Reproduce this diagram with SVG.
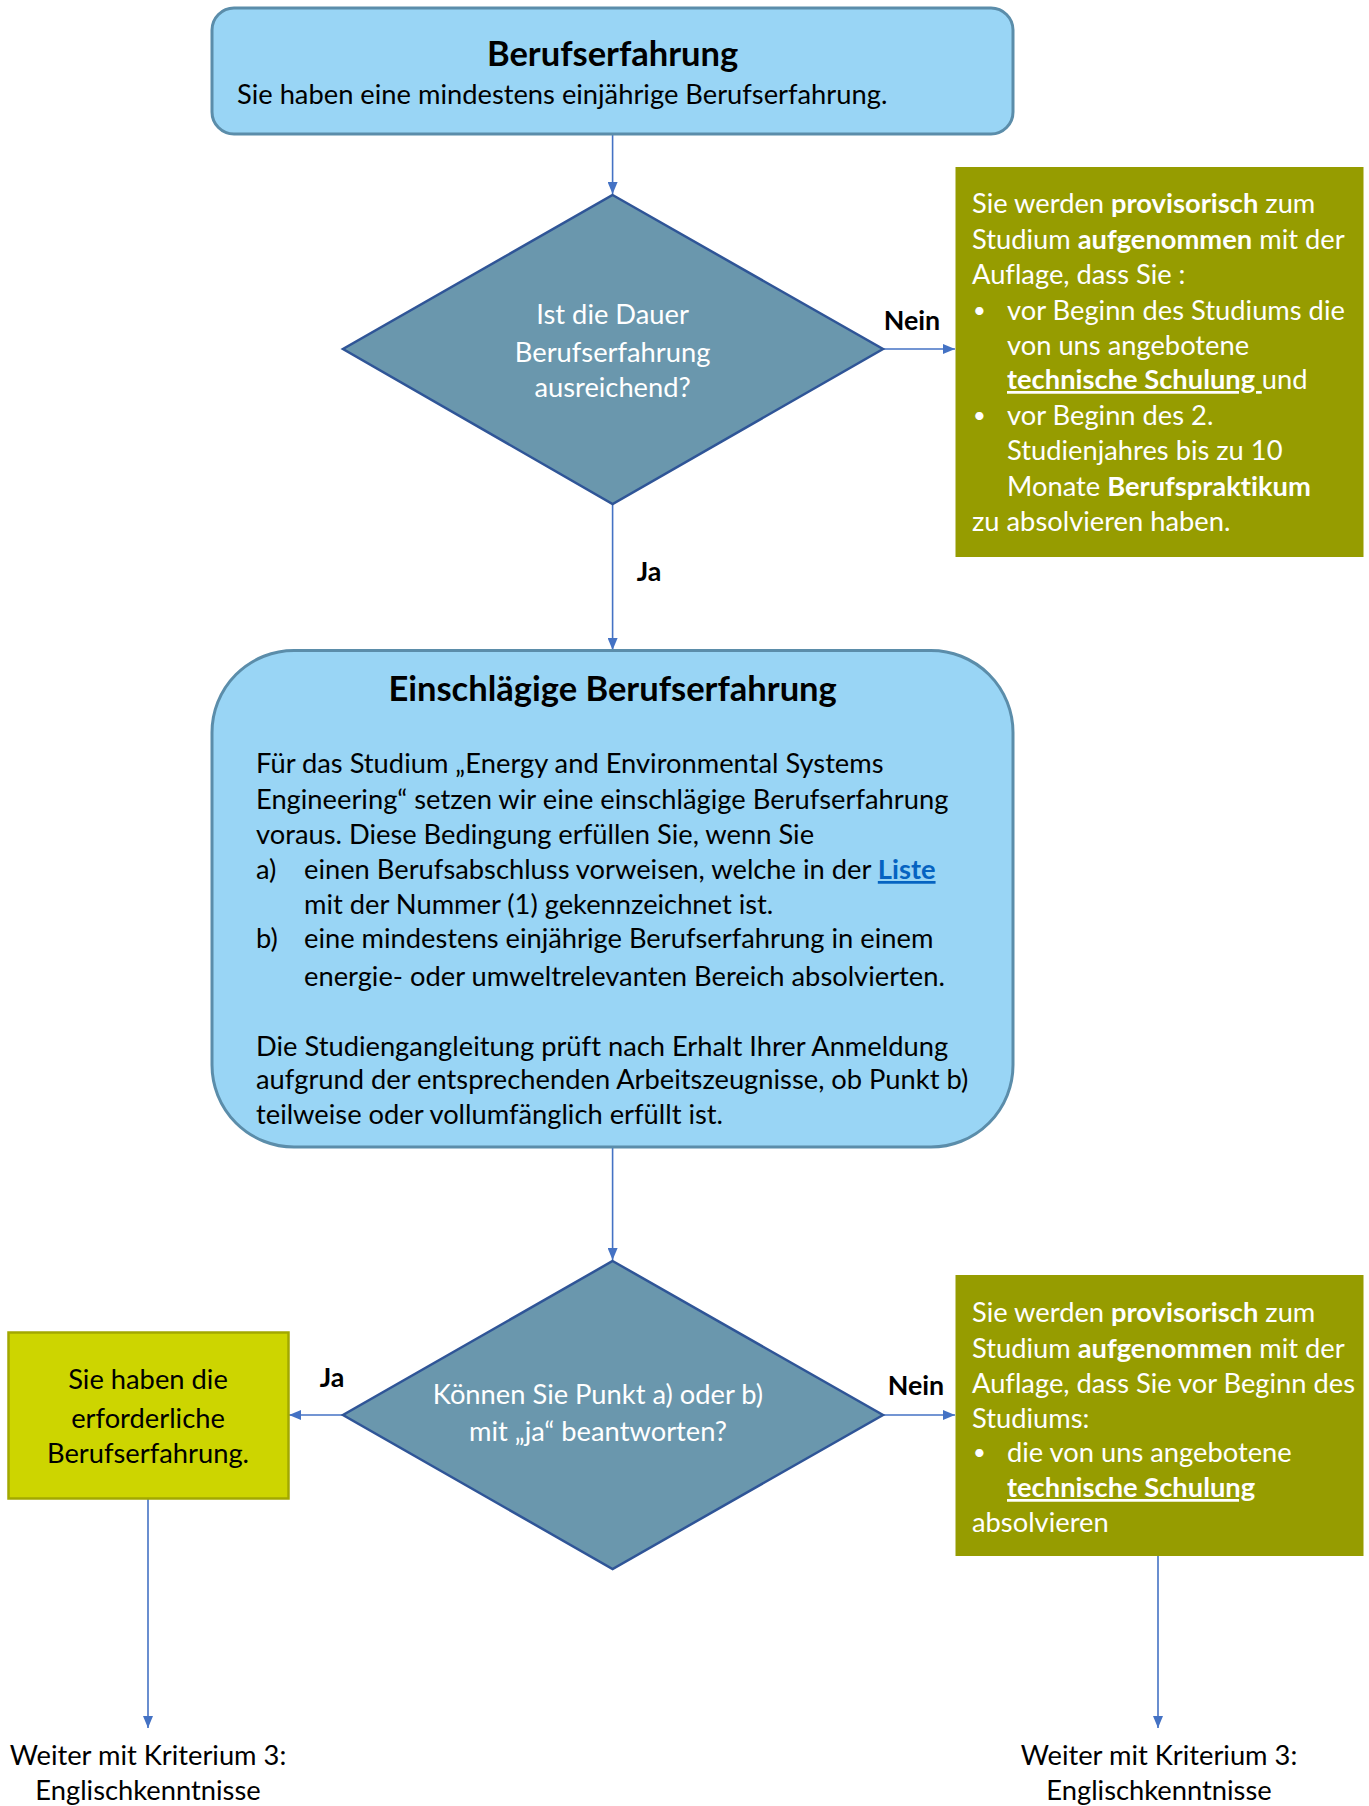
<svg xmlns="http://www.w3.org/2000/svg" width="1369" height="1806" viewBox="0 0 1369 1806">
<defs>
<style>
text{font-family:Lato,"Open Sans","Liberation Sans",sans-serif;font-variant-ligatures:none;}
.title{font-size:34.5px;font-weight:bold;fill:#000;text-anchor:middle;}
.body{font-size:27.3px;fill:#000;}
.wt{font-size:27.3px;fill:#fff;}
.dt{font-size:27.3px;fill:#fff;text-anchor:middle;}
.lbl{font-size:26.8px;font-weight:bold;fill:#000;text-anchor:middle;}
.bul{font-size:22px;fill:#fff;}
.b{font-weight:bold;}
.u{font-weight:bold;text-decoration:underline;}
.blue{fill:#99D5F5;stroke:#5B8DAA;stroke-width:3;}
.dia{fill:#6A97AD;stroke:#2F5597;stroke-width:2.5;}
.olive{fill:#969C00;}
.conn{stroke:#4472C4;stroke-width:1.6;fill:none;marker-end:url(#ah);}
</style>
<marker id="ah" viewBox="0 0 12 10" refX="12" refY="5" markerWidth="12" markerHeight="10" markerUnits="userSpaceOnUse" orient="auto">
<path d="M0,0 L12,5 L0,10 Z" fill="#4472C4"/>
</marker>
</defs>
<rect width="1369" height="1806" fill="#fff"/>

<g id="connectors">
<path class="conn" d="M612.6,134 V194"/>
<path class="conn" d="M612.6,504 V650"/>
<path class="conn" d="M883,349 H955"/>
<path class="conn" d="M612.6,1147 V1260"/>
<polygon points="612.6,1261 606.6,1275 618.6,1275" fill="#4472C4"/>
<path class="conn" d="M343,1415 H289"/>
<path class="conn" d="M883,1415 H955"/>
<path class="conn" d="M148,1499 V1728"/>
<path class="conn" d="M1158,1556 V1728"/>
</g>

<g id="start">
<rect class="blue" x="212" y="8" width="801" height="126" rx="22"/>
<text class="title" x="612.6" y="66">Berufserfahrung</text>
<text class="body" x="237" y="104">Sie haben eine mindestens einjährige Berufserfahrung.</text>
</g>

<g id="decision1">
<polygon class="dia" points="612.6,195 883,349 612.6,504 343,349"/>
<text class="dt" x="612.6" y="324">Ist die Dauer</text>
<text class="dt" x="612.6" y="362">Berufserfahrung</text>
<text class="dt" x="612.6" y="397">ausreichend?</text>
</g>
<g id="label-nein1"><text class="lbl" x="912" y="330">Nein</text></g>
<g id="label-ja1"><text class="lbl" x="649" y="581">Ja</text></g>

<g id="provisional1">
<rect class="olive" x="955.5" y="167" width="408" height="390"/>
<text class="wt" x="972" y="213">Sie werden <tspan class="b">provisorisch</tspan> zum</text>
<text class="wt" x="972" y="249">Studium <tspan class="b">aufgenommen</tspan> mit der</text>
<text class="wt" x="972" y="284">Auflage, dass Sie :</text>
<text class="bul" x="973" y="318">•</text>
<text class="wt" x="1007" y="320">vor Beginn des Studiums die</text>
<text class="wt" x="1007" y="355">von uns angebotene</text>
<text class="wt" x="1007" y="389"><tspan class="u">technische Schulung </tspan>und</text>
<text class="bul" x="973" y="423">•</text>
<text class="wt" x="1007" y="425">vor Beginn des 2.</text>
<text class="wt" x="1007" y="460">Studienjahres bis zu 10</text>
<text class="wt" x="1007" y="496">Monate <tspan class="b">Berufspraktikum</tspan></text>
<text class="wt" x="972" y="531">zu absolvieren haben.</text>
</g>

<g id="relevant">
<rect class="blue" x="212" y="650.5" width="801" height="496.5" rx="82"/>
<text class="title" x="612.6" y="701">Einschlägige Berufserfahrung</text>
<text class="body" x="256" y="773">Für das Studium „Energy and Environmental Systems</text>
<text class="body" x="256" y="809">Engineering“ setzen wir eine einschlägige Berufserfahrung</text>
<text class="body" x="256" y="844">voraus. Diese Bedingung erfüllen Sie, wenn Sie</text>
<text class="body" x="256" y="879">a)</text>
<text class="body" x="304" y="879">einen Berufsabschluss vorweisen, welche in der <tspan class="u" fill="#0563C1">Liste</tspan></text>
<text class="body" x="304" y="914">mit der Nummer (1) gekennzeichnet ist.</text>
<text class="body" x="256" y="948">b)</text>
<text class="body" x="304" y="948">eine mindestens einjährige Berufserfahrung in einem</text>
<text class="body" x="304" y="986">energie- oder umweltrelevanten Bereich absolvierten.</text>
<text class="body" x="256" y="1056">Die Studiengangleitung prüft nach Erhalt Ihrer Anmeldung</text>
<text class="body" x="256" y="1089">aufgrund der entsprechenden Arbeitszeugnisse, ob Punkt b)</text>
<text class="body" x="256" y="1124">teilweise oder vollumfänglich erfüllt ist.</text>
</g>

<g id="decision2">
<polygon class="dia" points="612.6,1261 883,1415 612.6,1569 343,1415"/>
<text class="dt" x="598" y="1404">Können Sie Punkt a) oder b)</text>
<text class="dt" x="598" y="1441">mit „ja“ beantworten?</text>
</g>
<g id="label-ja2"><text class="lbl" x="332" y="1387">Ja</text></g>
<g id="label-nein2"><text class="lbl" x="916" y="1395">Nein</text></g>

<g id="fulfilled">
<rect x="8.5" y="1332.5" width="280" height="166" fill="#CDD500" stroke="#A2A800" stroke-width="2.5"/>
<text class="body" text-anchor="middle" x="148" y="1389">Sie haben die</text>
<text class="body" text-anchor="middle" x="148" y="1428">erforderliche</text>
<text class="body" text-anchor="middle" x="148" y="1463">Berufserfahrung.</text>
</g>

<g id="provisional2">
<rect class="olive" x="955.5" y="1275" width="408" height="281"/>
<text class="wt" x="972" y="1322">Sie werden <tspan class="b">provisorisch</tspan> zum</text>
<text class="wt" x="972" y="1358">Studium <tspan class="b">aufgenommen</tspan> mit der</text>
<text class="wt" x="972" y="1393">Auflage, dass Sie vor Beginn des</text>
<text class="wt" x="972" y="1428">Studiums:</text>
<text class="bul" x="973" y="1460">•</text>
<text class="wt" x="1007" y="1462">die von uns angebotene</text>
<text class="wt" x="1007" y="1497"><tspan class="u">technische Schulung</tspan></text>
<text class="wt" x="972" y="1532">absolvieren</text>
</g>

<g id="next-left">
<text class="body" text-anchor="middle" x="148" y="1765">Weiter mit Kriterium 3:</text>
<text class="body" text-anchor="middle" x="148" y="1800">Englischkenntnisse</text>
</g>
<g id="next-right">
<text class="body" text-anchor="middle" x="1159" y="1765">Weiter mit Kriterium 3:</text>
<text class="body" text-anchor="middle" x="1159" y="1800">Englischkenntnisse</text>
</g>
</svg>
